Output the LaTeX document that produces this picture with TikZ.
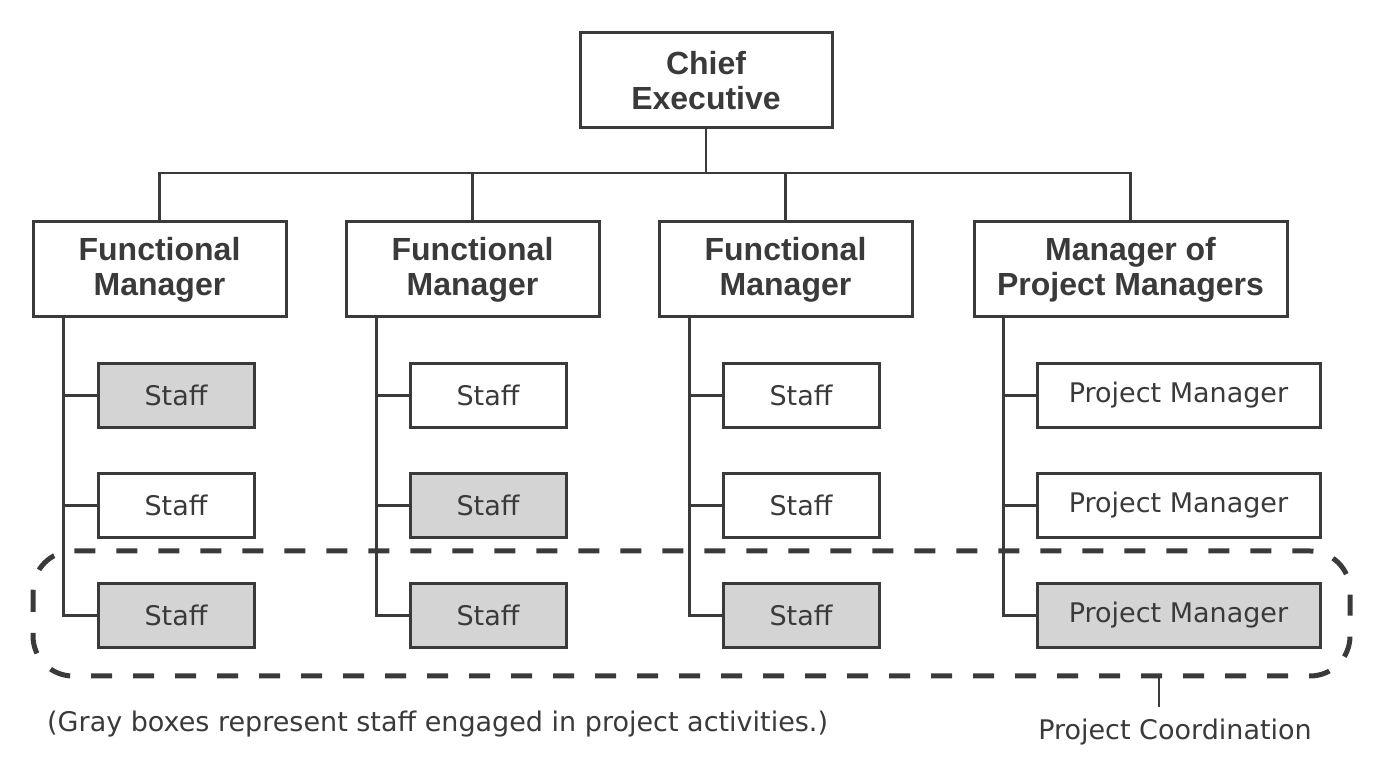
\documentclass[tikz,border=0pt]{standalone}
\usepackage{fontspec}
\setmainfont{Liberation Sans}
\newfontfamily\bodyfont{DejaVu Sans}
\usepackage{xcolor}
\usepackage{tikz}
\usetikzlibrary{positioning,calc}
\definecolor{ink}{HTML}{3A3A3A}
\definecolor{boxgray}{HTML}{D4D4D4}

\begin{document}
\begin{tikzpicture}[
    x=1pt, y=1pt,
    font=\bodyfont\fontsize{27}{30}\selectfont,
    box/.style={rectangle, draw=ink, line width=3pt, fill=white, text=ink, align=center, inner sep=0pt},
    head/.style={box, minimum width=253pt, minimum height=95pt, font=\rmfamily\fontsize{32}{35}\selectfont\bfseries},
    staff/.style={box, minimum width=156pt, minimum height=64pt},
    pm/.style={staff, minimum width=283pt},
    busy/.style={fill=boxgray},
    link/.style={draw=ink, line width=2.5pt},
    coord/.style={draw=ink, line width=5pt, dash pattern=on 21pt off 21pt, rounded corners=40pt}
]
    \useasboundingbox (0,0) rectangle (1396,762);

    % --- 1. Top of the chart ---
    \node[head, minimum width=252pt] (chief) at (706,681.5) {Chief\\Executive};

    \node[head] (fm1) at (159.5,492.5) {Functional\\Manager};
    \node[head] (fm2) at (472.5,492.5) {Functional\\Manager};
    \node[head] (fm3) at (785.5,492.5) {Functional\\Manager};
    \node[head, minimum width=313pt] (mpm) at (1130.5,492.5) {Manager of\\Project Managers};

    % --- 2. Trunks under each manager ---
    \coordinate (t1) at ($(fm1.south west)+(32,0)$);
    \coordinate (t2) at ($(fm2.south west)+(32,0)$);
    \coordinate (t3) at ($(fm3.south west)+(32,0)$);
    \coordinate (t4) at ($(mpm.south west)+(31,0)$);

    % --- 3. Staff boxes ---
    \node[staff, busy, anchor=west] (s11) at ($(t1)+(33,-77)$) {Staff};
    \node[staff, below=43pt of s11] (s12) {Staff};
    \node[staff, busy, below=43pt of s12] (s13) {Staff};

    \node[staff, anchor=west] (s21) at ($(t2)+(32,-77)$) {Staff};
    \node[staff, busy, below=43pt of s21] (s22) {Staff};
    \node[staff, busy, below=43pt of s22] (s23) {Staff};

    \node[staff, anchor=west] (s31) at ($(t3)+(32,-77)$) {Staff};
    \node[staff, below=43pt of s31] (s32) {Staff};
    \node[staff, busy, below=43pt of s32] (s33) {Staff};

    \node[pm, anchor=west] (p1) at ($(t4)+(32,-77)$) {Project Manager};
    \node[pm, below=43pt of p1] (p2) {Project Manager};
    \node[pm, busy, below=43pt of p2] (p3) {Project Manager};

    % --- 4. Connections ---
    \coordinate (bar) at (0,589);
    \draw[link] (chief.south) -- (chief.south |- bar);
    \draw[link] (fm1.north) |- (mpm.north |- bar) -- (mpm.north);
    \draw[link] (fm2.north) -- (fm2.north |- bar);
    \draw[link] (fm3.north) -- (fm3.north |- bar);

    \draw[link] (t1) |- (s13.west);
    \draw[link] (t1 |- s11.west) -- (s11.west);
    \draw[link] (t1 |- s12.west) -- (s12.west);

    \draw[link] (t2) |- (s23.west);
    \draw[link] (t2 |- s21.west) -- (s21.west);
    \draw[link] (t2 |- s22.west) -- (s22.west);

    \draw[link] (t3) |- (s33.west);
    \draw[link] (t3 |- s31.west) -- (s31.west);
    \draw[link] (t3 |- s32.west) -- (s32.west);

    \draw[link] (t4) |- (p3.west);
    \draw[link] (t4 |- p1.west) -- (p1.west);
    \draw[link] (t4 |- p2.west) -- (p2.west);

    % --- 5. Project coordination band ---
    \draw[coord] (33,211) rectangle (1350,86);
    \coordinate (tick) at (1159,86);
    \coordinate (tickend) at (1159,55);
    \draw[link] (tick) -- (tickend);

    \node[anchor=base, inner sep=0pt, text=ink] (pclabel) at (1175,22) {Project Coordination};
    \node[anchor=base west, inner sep=0pt, text=ink] (note) at (47,30) {(Gray boxes represent staff engaged in project activities.)};

\end{tikzpicture}
\end{document}
